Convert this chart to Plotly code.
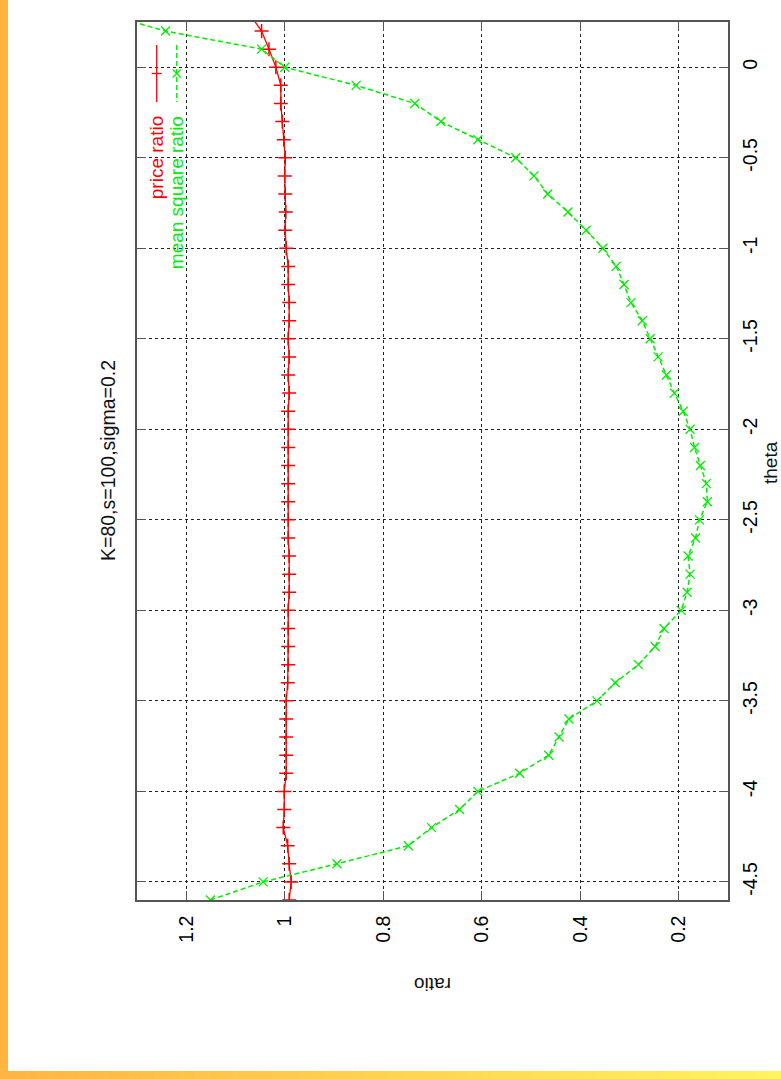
import plotly.graph_objects as go

# ---------------- data ----------------
theta = [-4.6, -4.5, -4.4, -4.3, -4.2, -4.1, -4.0, -3.9, -3.8, -3.7,
         -3.6, -3.5, -3.4, -3.3, -3.2, -3.1, -3.0, -2.9, -2.8, -2.7,
         -2.6, -2.5, -2.4, -2.3, -2.2, -2.1, -2.0, -1.9, -1.8, -1.7,
         -1.6, -1.5, -1.4, -1.3, -1.2, -1.1, -1.0, -0.9, -0.8, -0.7,
         -0.6, -0.5, -0.4, -0.3, -0.2, -0.1, 0.0, 0.1, 0.2, 0.3]

price_ratio = [0.991, 0.987, 0.991, 0.994, 1.003, 1.001, 1.001, 0.997, 0.997, 0.997,
               0.997, 0.997, 0.994, 0.993, 0.993, 0.993, 0.993, 0.991, 0.991, 0.991,
               0.993, 0.993, 0.993, 0.993, 0.993, 0.993, 0.993, 0.993, 0.991, 0.993,
               0.991, 0.993, 0.991, 0.991, 0.993, 0.993, 0.997, 0.999, 0.998, 0.999,
               1.000, 0.999, 1.002, 1.005, 1.008, 1.008, 1.018, 1.032, 1.047, 1.073]

mean_square_ratio = [1.151, 1.044, 0.894, 0.749, 0.702, 0.645, 0.608, 0.523, 0.464, 0.443,
                     0.423, 0.366, 0.329, 0.282, 0.248, 0.230, 0.195, 0.183, 0.177, 0.181,
                     0.166, 0.158, 0.142, 0.144, 0.156, 0.168, 0.177, 0.191, 0.209, 0.225,
                     0.242, 0.258, 0.274, 0.297, 0.311, 0.327, 0.354, 0.388, 0.425, 0.466,
                     0.494, 0.531, 0.608, 0.683, 0.736, 0.855, 1.000, 1.047, 1.242, 1.372]

ratio_ticks = [1.2, 1.0, 0.8, 0.6, 0.4, 0.2]
ratio_ticktext = ["1.2", "1", "0.8", "0.6", "0.4", "0.2"]
theta_ticks = [0, -0.5, -1, -1.5, -2, -2.5, -3, -3.5, -4, -4.5]
theta_ticktext = ["0", "-0.5", "-1", "-1.5", "-2", "-2.5", "-3", "-3.5", "-4", "-4.5"]

title_text = "K=80,s=100,sigma=0.2"
x_title = "ratio"
y_title = "theta"
series_names = ["price ratio", "mean square ratio"]

# ---------------- layout geometry ----------------
W, H = 781, 1079
L, R, T, B = 137, 728, 22, 900
PW, PH = R - L, B - T

def px(x):
    return (x - L) / PW

def py(y):
    return (B - y) / PH

FONT = "Liberation Sans, Arial, Helvetica, sans-serif"
RED = "#ff0000"
GREEN = "#00ee00"

fig = go.Figure()

fig.add_trace(go.Scatter(
    x=price_ratio, y=theta, mode="lines+markers",
    line=dict(color=RED, width=1.3),
    marker=dict(symbol="cross-thin", size=10, color=RED,
                line=dict(color=RED, width=1.5)),
    name=series_names[0], showlegend=False))

fig.add_trace(go.Scatter(
    x=mean_square_ratio, y=theta, mode="lines+markers",
    line=dict(color=GREEN, width=1.5, dash="5px,3px"),
    marker=dict(symbol="x-thin", size=9, color=GREEN,
                line=dict(color=GREEN, width=1.3)),
    name=series_names[1], showlegend=False))

shapes = []
# slide decoration: orange left strip and bottom gradient strip
shapes.append(dict(type="rect", xref="paper", yref="paper", layer="below",
                   x0=px(0), x1=px(8), y0=py(0), y1=py(H),
                   fillcolor="#ffb43f", line=dict(width=0)))
N = 60
c0 = (255, 180, 68)
c1 = (255, 243, 94)
for i in range(N):
    t = i / (N - 1)
    c = tuple(int(round(c0[k] + (c1[k] - c0[k]) * t)) for k in range(3))
    xa = i * W / N
    xb = (i + 1) * W / N + 0.6
    shapes.append(dict(type="rect", xref="paper", yref="paper", layer="below",
                       x0=px(xa), x1=px(xb), y0=py(1071), y1=py(H),
                       fillcolor="rgb(%d,%d,%d)" % c, line=dict(width=0)))

# legend samples (rotated legend, drawn manually)
leg_x = [156.7, 176.7]
leg_cols = [RED, GREEN]
leg_dash = ["solid", "5px,3px"]
for lx, col, dsh in zip(leg_x, leg_cols, leg_dash):
    shapes.append(dict(type="line", xref="paper", yref="paper",
                       x0=px(lx), x1=px(lx), y0=py(45), y1=py(102),
                       line=dict(color=col, width=1.3, dash=dsh)))
# legend marker glyphs
mx, my = leg_x[0], 73.5
shapes.append(dict(type="line", xref="paper", yref="paper",
                   x0=px(mx - 5), x1=px(mx + 5), y0=py(my), y1=py(my),
                   line=dict(color=RED, width=1.3)))
mx2 = leg_x[1]
shapes.append(dict(type="line", xref="paper", yref="paper",
                   x0=px(mx2 - 4), x1=px(mx2 + 4), y0=py(my - 4), y1=py(my + 4),
                   line=dict(color=GREEN, width=1.2)))
shapes.append(dict(type="line", xref="paper", yref="paper",
                   x0=px(mx2 - 4), x1=px(mx2 + 4), y0=py(my + 4), y1=py(my - 4),
                   line=dict(color=GREEN, width=1.2)))

NBSP = "\u00a0"
annotations = [
    dict(text=title_text, xref="paper", yref="paper", x=px(108), y=py(461),
         textangle=-90, showarrow=False, xanchor="center", yanchor="middle",
         font=dict(family=FONT, size=19.5, color="#111")),
    dict(text=x_title, xref="paper", yref="paper", x=0.5, y=py(985),
         textangle=180, showarrow=False, xanchor="center", yanchor="middle",
         font=dict(family=FONT, size=19, color="#111")),
    dict(text=y_title, xref="paper", yref="paper", x=px(770), y=py(463),
         textangle=-90, showarrow=False, xanchor="center", yanchor="middle",
         font=dict(family=FONT, size=19, color="#111")),
    dict(text=series_names[0].replace(" ", NBSP), xref="paper", yref="paper",
         x=px(leg_x[0]), y=py(114),
         textangle=-90, showarrow=False, xanchor="center", yanchor="top",
         font=dict(family=FONT, size=19, color=RED)),
    dict(text=series_names[1].replace(" ", NBSP), xref="paper", yref="paper",
         x=px(leg_x[1]), y=py(114),
         textangle=-90, showarrow=False, xanchor="center", yanchor="top",
         font=dict(family=FONT, size=19, color=GREEN)),
]

axis_common = dict(
    showline=True, linecolor="#555", linewidth=1.5, mirror="allticks",
    ticks="inside", ticklen=9, tickcolor="#555", tickwidth=1.2,
    showgrid=True, gridcolor="#222", gridwidth=1, griddash="dot",
    zeroline=False, tickfont=dict(family=FONT, size=19.5, color="#000"),
    tickangle=-90,
)

fig.update_layout(
    width=W, height=H,
    margin=dict(l=L, r=W - R, t=T, b=H - B),
    paper_bgcolor="white", plot_bgcolor="white",
    showlegend=False,
    xaxis=dict(range=[1.3, 0.1], tickmode="array", tickvals=ratio_ticks,
               ticktext=ratio_ticktext, ticklabelstandoff=6, **axis_common),
    yaxis=dict(range=[-4.6, 0.25], side="right", tickmode="array",
               tickvals=theta_ticks, ticktext=theta_ticktext,
               ticklabelstandoff=4, **axis_common),
    shapes=shapes,
    annotations=annotations,
)

fig.write_html(
    "out.html",
    config={"displayModeBar": False},
    post_script="document.body.style.margin='0';document.body.style.padding='0';",
)
